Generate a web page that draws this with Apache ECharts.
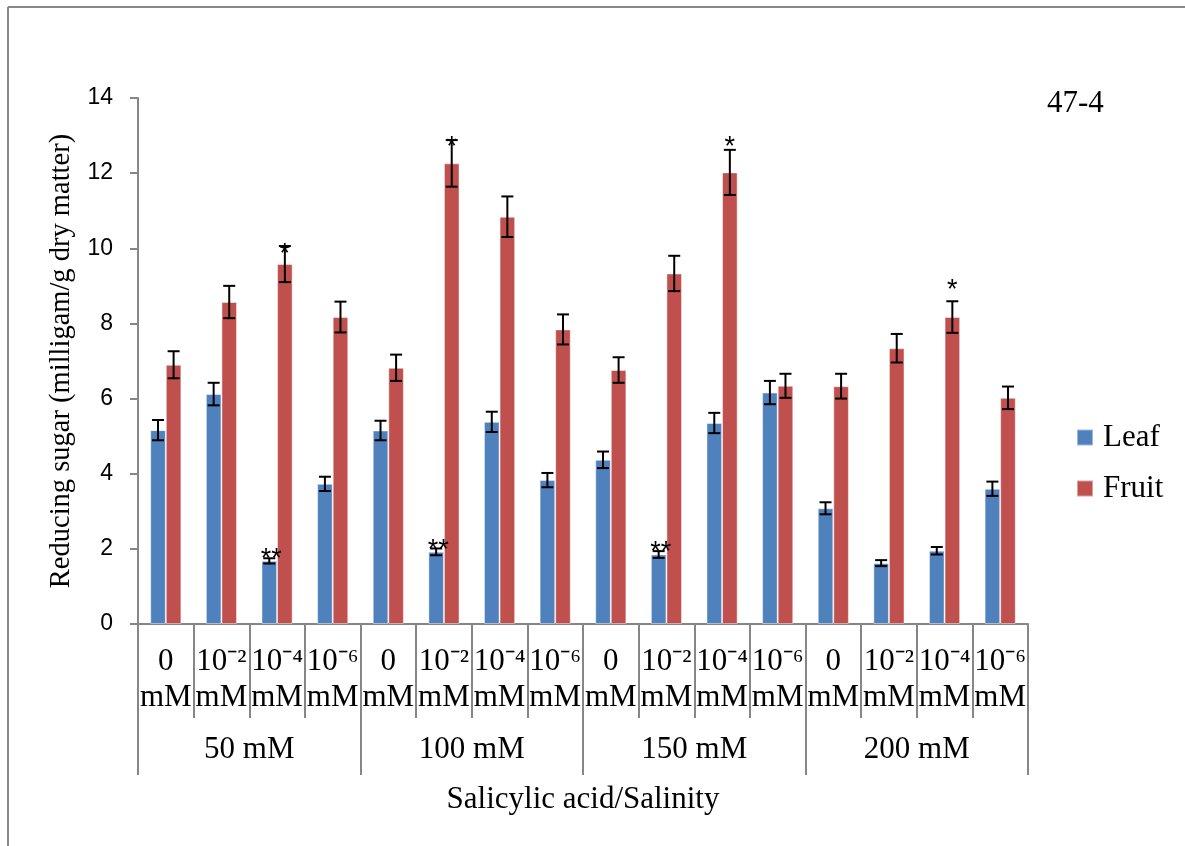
<!DOCTYPE html>
<html>
<head>
<meta charset="utf-8">
<style>
html,body{margin:0;padding:0;background:#fff;}
#chart{width:1185px;height:846px;}
</style>
<script src="https://cdn.jsdelivr.net/npm/echarts@6/dist/echarts.min.js"></script>
</head>
<body>
<div id="chart"></div>
<script>
// ---- data ----
const salinity = ['50 mM', '100 mM', '150 mM', '200 mM'];
const saConc = ['0', '10⁻²', '10⁻⁴', '10⁻⁶'];
const yTicks = [0, 2, 4, 6, 8, 10, 12, 14];
const leaf = [5.16, 6.12, 1.68, 3.73, 5.15, 1.92, 5.38, 3.83, 4.37, 1.85, 5.35, 6.16, 3.08, 1.62, 1.95, 3.60];
const leafErr = [0.27, 0.30, 0.07, 0.19, 0.26, 0.09, 0.27, 0.19, 0.22, 0.09, 0.27, 0.31, 0.16, 0.08, 0.10, 0.19];
const fruit = [6.90, 8.57, 9.58, 8.17, 6.82, 12.26, 10.84, 7.84, 6.76, 9.33, 12.02, 6.34, 6.33, 7.34, 8.17, 6.02];
const fruitErr = [0.36, 0.43, 0.48, 0.41, 0.35, 0.62, 0.54, 0.40, 0.34, 0.47, 0.60, 0.32, 0.33, 0.38, 0.42, 0.30];
const leafStar = ['', '', '**', '', '', '**', '', '', '', '**', '', '', '', '', '', ''];
const leafStarAt = [null, null, 1.89, null, null, 2.14, null, null, null, 2.08, null, null, null, null, null, null];
const fruitStar = ['', '', '*', '', '', '*', '', '', '', '', '*', '', '', '', '*', ''];
const fruitStarAt = [null, null, 10.03, null, null, 12.86, null, null, null, null, 12.86, null, null, null, 9.05, null];

// ---- build categories ----
const categories = [];
salinity.forEach(() => saConc.forEach(c => categories.push(c + '\nmM')));

const SERIF = '"Liberation Serif", "Times New Roman", serif';
const SANS = '"Liberation Sans", Arial, sans-serif';
const LEAF_C = '#4F81BD', FRUIT_C = '#C0504D', AXIS_C = '#868686';

function errSeries(name, vals, errs, stars, starAt, sign) {
  return {
    type: 'custom',
    name: name + ' err',
    xAxisIndex: 0, yAxisIndex: 0,
    z: 5,
    silent: true,
    data: vals.map((v, i) => [i, v, errs[i]]),
    renderItem: function (params, api) {
      const i = params.dataIndex;
      const idx = api.value(0);
      const v = api.value(1), e = api.value(2);
      const bw = api.size([1, 0])[0];
      const off = sign * bw * 0.14;
      const top = api.coord([idx, v + e]);
      const bot = api.coord([idx, v - e]);
      const x = top[0] + off;
      const cap = 6;
      const children = [
        { type: 'line', shape: { x1: x, y1: top[1], x2: x, y2: bot[1] }, style: { stroke: '#000', lineWidth: 2 } },
        { type: 'line', shape: { x1: x - cap, y1: top[1], x2: x + cap, y2: top[1] }, style: { stroke: '#000', lineWidth: 2 } },
        { type: 'line', shape: { x1: x - cap, y1: bot[1], x2: x + cap, y2: bot[1] }, style: { stroke: '#000', lineWidth: 2 } }
      ];
      if (stars[i]) {
        const sp = api.coord([idx, starAt[i]]);
        children.push({
          type: 'text',
          style: { text: stars[i], x: x + (sign < 0 ? 2 : 0), y: sp[1] + 7, align: 'center', verticalAlign: 'middle',
                   font: '27px ' + SANS, fill: '#000' }
        });
      }
      return { type: 'group', children: children };
    }
  };
}

const chart = echarts.init(document.getElementById('chart'), null, { renderer: 'canvas' });
chart.setOption({
  animation: false,
  backgroundColor: '#fff',
  grid: { left: 138, right: 157, top: 98, bottom: 222 },
  legend: {
    orient: 'vertical',
    left: 1071, top: 417,
    itemWidth: 16, itemHeight: 16,
    itemGap: 20,
    icon: 'rect',
    data: ['Leaf', 'Fruit'],
    textStyle: { fontFamily: SERIF, fontSize: 31, color: '#000', padding: [0, 0, 0, 5] }
  },
  graphic: [
    { type: 'line', shape: { x1: 8, y1: 7, x2: 1185, y2: 7 }, style: { stroke: '#888', lineWidth: 2 } },
    { type: 'line', shape: { x1: 8, y1: 7, x2: 8, y2: 846 }, style: { stroke: '#888', lineWidth: 2 } },
    { type: 'text', left: 1047, top: 88, style: { text: '47-4', font: '31px ' + SERIF, fill: '#000' } }
  ],
  xAxis: [
    {
      type: 'category',
      data: categories,
      position: 'bottom',
      axisLine: { show: true, lineStyle: { color: AXIS_C, width: 2 } },
      axisTick: { show: true, interval: 0, length: 94, lineStyle: { color: AXIS_C, width: 2 } },
      axisLabel: { interval: 0, margin: 20, fontFamily: SERIF, fontSize: 31, lineHeight: 36, color: '#000' },
      splitLine: { show: false }
    },
    {
      type: 'category',
      data: salinity,
      position: 'bottom',
      axisLine: { show: false },
      axisTick: { show: true, interval: 0, length: 151, lineStyle: { color: AXIS_C, width: 2 } },
      axisLabel: { interval: 0, margin: 110, fontFamily: SERIF, fontSize: 31, color: '#000' },
      name: 'Salicylic acid/Salinity',
      nameLocation: 'middle',
      nameGap: 160,
      nameTextStyle: { fontFamily: SERIF, fontSize: 31, color: '#000' }
    }
  ],
  yAxis: {
    type: 'value',
    min: yTicks[0], max: yTicks[yTicks.length - 1], interval: 2,
    axisLine: { show: true, lineStyle: { color: AXIS_C, width: 2 } },
    axisTick: { show: true, length: 8, lineStyle: { color: AXIS_C, width: 2 } },
    axisLabel: { margin: 25, fontFamily: SANS, fontSize: 23, color: '#000' },
    splitLine: { show: false },
    name: 'Reducing sugar (milligam/g dry matter)',
    nameLocation: 'middle',
    nameGap: 62,
    nameTextStyle: { fontFamily: SERIF, fontSize: 28.5, color: '#000' }
  },
  series: [
    { name: 'Leaf', type: 'bar', data: leaf, barWidth: '28%', barGap: '0%',
      itemStyle: { color: LEAF_C, borderColor: 'rgba(255,255,255,0.45)', borderWidth: 1 } },
    { name: 'Fruit', type: 'bar', data: fruit, barWidth: '28%', barGap: '0%',
      itemStyle: { color: FRUIT_C, borderColor: 'rgba(255,255,255,0.45)', borderWidth: 1 } },
    errSeries('Leaf', leaf, leafErr, leafStar, leafStarAt, -1),
    errSeries('Fruit', fruit, fruitErr, fruitStar, fruitStarAt, 1)
  ]
});
</script>
</body>
</html>
